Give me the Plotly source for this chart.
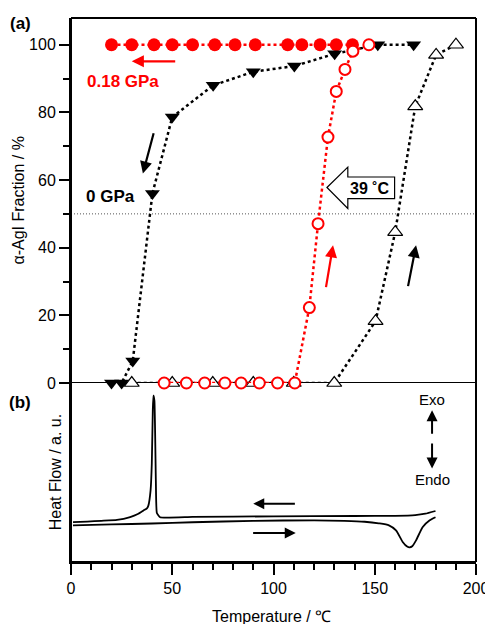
import plotly.graph_objects as go

# ---------------- data ----------------
# (a) alpha-AgI fraction (%) vs temperature (deg C)
t_cool_018 = [20, 30, 41, 50, 60, 71, 81, 91, 107, 114, 123, 131, 139]
f_cool_018 = [100, 100, 100, 100, 100, 100, 100, 100, 100, 100, 100, 100, 100]

t_heat_018 = [46, 57, 66, 76, 84, 93, 102, 110.5, 117.7, 122, 126.9, 131, 135.3, 139.2, 147.1]
f_heat_018 = [0, 0, 0, 0, 0, 0, 0, 0, 22.3, 47.1, 72.7, 86.2, 92.7, 98.1, 100]

t_cool_0 = [20, 25, 30.5, 40.2, 50, 70.2, 90, 110.3, 130.2, 151.5, 169.2]
f_cool_0 = [0, 0, 6.5, 56, 78.6, 88, 92, 93.7, 97.3, 100, 100]

t_heat_0 = [30, 50, 70, 90, 110, 130, 150.4, 160.1, 170, 180.3, 190.1]
f_heat_0 = [0, 0, 0, 0, 0, 0, 18.3, 44.6, 81.8, 97, 100]

# (b) DSC heat flow (arbitrary units)
t_dsc_cool = [180, 175, 170, 160, 140, 100, 60, 44, 42.4, 41.9, 41.2, 40.7, 40.4, 39.9,
              39.3, 38.2, 37.5, 35.8, 33, 29.2, 22.7, 15, 8, 1]
h_dsc_cool = [28.5, 27.0, 26.2, 25.8, 25.7, 25.5, 25.2, 25.0, 27.4, 45.6, 90, 93.1, 85, 55,
              40, 31.5, 30.0, 28.8, 26.8, 25.1, 23.5, 23.0, 22.6, 22.3]

t_dsc_heat = [1, 20, 40, 60, 90, 120, 135, 145, 152, 157, 160.5, 163.8, 166, 167.2,
              168.5, 170.4, 173.7, 177, 180]
h_dsc_heat = [20.5, 21.0, 21.5, 22.2, 23.0, 23.3, 23.0, 22.5, 21.6, 20.5, 17.7, 11.2, 8.6, 8.2,
              8.8, 12.1, 19.6, 23.2, 25.0]

x_ticks = [0, 50, 100, 150, 200]
y_ticks = [0, 20, 40, 60, 80, 100]

# ---------------- figure ----------------
RED = "#ff0000"
FONT = "Liberation Sans, Arial, Helvetica, sans-serif"
DASH = "3px,3px"

fig = go.Figure()

fig.add_trace(go.Scatter(
    x=t_cool_018, y=f_cool_018, mode="lines+markers", cliponaxis=False,
    line=dict(color=RED, width=2.5, dash=DASH),
    marker=dict(symbol="circle", size=13, color=RED, line=dict(width=0)),
    xaxis="x", yaxis="y", showlegend=False, hoverinfo="skip"))

fig.add_trace(go.Scatter(
    x=t_cool_0, y=f_cool_0, mode="lines+markers", cliponaxis=False,
    line=dict(color="black", width=2.5, dash=DASH),
    marker=dict(symbol="triangle-down", size=13, color="black", line=dict(width=0)),
    xaxis="x", yaxis="y", showlegend=False, hoverinfo="skip"))

fig.add_trace(go.Scatter(
    x=t_heat_0, y=f_heat_0, mode="lines+markers", cliponaxis=False,
    line=dict(color="black", width=2.5, dash=DASH),
    marker=dict(symbol="triangle-up", size=13, color="white", line=dict(color="black", width=1.2)),
    xaxis="x", yaxis="y", showlegend=False, hoverinfo="skip"))

fig.add_trace(go.Scatter(
    x=t_heat_018, y=f_heat_018, mode="lines+markers", cliponaxis=False,
    line=dict(color=RED, width=2.5, dash=DASH),
    marker=dict(symbol="circle", size=11, color="white", line=dict(color=RED, width=2)),
    xaxis="x", yaxis="y", showlegend=False, hoverinfo="skip"))

fig.add_trace(go.Scatter(
    x=t_dsc_heat, y=h_dsc_heat, mode="lines",
    line=dict(color="black", width=1.8, shape="spline", smoothing=0.6),
    xaxis="x", yaxis="y2", showlegend=False, hoverinfo="skip"))

fig.add_trace(go.Scatter(
    x=t_dsc_cool, y=h_dsc_cool, mode="lines",
    line=dict(color="black", width=1.8, shape="spline", smoothing=0.4),
    xaxis="x", yaxis="y2", showlegend=False, hoverinfo="skip"))

SPLIT = 0.329

# page body has an 8px default margin: size the figure so the plot lands where the reference has it
fig.update_layout(
    width=485, height=616,
    margin=dict(l=63, r=17, t=10, b=62, autoexpand=False),
    paper_bgcolor="white", plot_bgcolor="white",
    font=dict(family=FONT, size=16, color="black"),
    xaxis=dict(
        range=[0, 200], anchor="y2", domain=[0, 1], automargin=False,
        tickvals=x_ticks, ticktext=[str(v) for v in x_ticks],
        ticks="outside", ticklen=11, tickwidth=1.5, tickcolor="black",
        minor=dict(dtick=10, ticks="outside", ticklen=6, tickwidth=1.5, tickcolor="black"),
        showgrid=False, zeroline=False, showline=True, linecolor="black", linewidth=2,
        tickfont=dict(size=16, family=FONT),
    ),
    yaxis=dict(
        range=[0, 107.9], domain=[SPLIT, 1], anchor="x", automargin=False,
        tickvals=y_ticks, ticktext=[str(v) for v in y_ticks],
        ticks="outside", ticklen=10, tickwidth=1.5, tickcolor="black",
        minor=dict(dtick=10, ticks="outside", ticklen=6, tickwidth=1.5, tickcolor="black"),
        showgrid=False, zeroline=False, showline=True, linecolor="black", linewidth=2,
        tickfont=dict(size=16, family=FONT),
    ),
    yaxis2=dict(
        range=[0, 100], domain=[0, SPLIT], anchor="x", automargin=False,
        showticklabels=False, ticks="", showgrid=False, zeroline=False,
        showline=True, linecolor="black", linewidth=2,
    ),
)

FRAME = dict(color="black", width=2)
shapes = [
    # 50 % guide line
    dict(type="line", xref="x", yref="y", x0=0, x1=200, y0=50, y1=50,
         line=dict(color="#555555", width=1, dash="1px,2px"), layer="below"),
    # panel divider (0 %)
    dict(type="line", xref="paper", yref="y", x0=0, x1=1, y0=0, y1=0,
         line=FRAME, layer="below"),
    # frame edges
    dict(type="line", xref="paper", yref="paper", x0=0, x1=1, y0=1, y1=1, line=FRAME),
    dict(type="line", xref="paper", yref="paper", x0=1, x1=1, y0=0, y1=1, line=FRAME),
    dict(type="line", xref="paper", yref="paper", x0=0, x1=0, y0=0, y1=1, line=FRAME),
    dict(type="line", xref="paper", yref="paper", x0=0, x1=1, y0=0, y1=0, line=FRAME),
    # hollow arrow "39 C"
    dict(type="path", xref="x", yref="y",
         path="M126.4,57.8 L136.7,63.8 L136.7,60.9 L159.8,60.9 L159.8,54.5 L136.7,54.5 L136.7,51.6 Z",
         line=dict(color="black", width=1.2), fillcolor="white"),
]
fig.update_layout(shapes=shapes)

ann = []

def arrow(x_tail, y_tail, x_head, y_head, color, yref="y", width=2.2):
    ann.append(dict(x=x_head, y=y_head, ax=x_tail, ay=y_tail,
                    xref="x", yref=yref, axref="x", ayref=yref,
                    text="", showarrow=True, arrowhead=2, arrowsize=1.1,
                    arrowwidth=width, arrowcolor=color))

# panel (a) arrows
arrow(52.2, 95.1, 30.0, 95.1, RED)
arrow(41.0, 74.3, 35.5, 61.9, "black")
arrow(125.8, 27.9, 129.4, 40.7, RED)
arrow(166.3, 28.2, 170.4, 40.7, "black")
# panel (b) arrows
arrow(111.3, 32.6, 90.0, 32.6, "black", yref="y2", width=2)
arrow(89.2, 16.2, 111.0, 16.2, "black", yref="y2", width=2)
arrow(178.3, 70.8, 178.3, 84.8, "black", yref="y2", width=2)
arrow(178.3, 67.0, 178.3, 52.2, "black", yref="y2", width=2)

texts = [
    dict(x=25.8, y=89.1, xref="x", yref="y", text="<b>0.18 GPa</b>",
         font=dict(size=17, color=RED)),
    dict(x=19.5, y=55.2, xref="x", yref="y", text="<b>0 GPa</b>",
         font=dict(size=17, color="black")),
    dict(x=147.6, y=57.4, xref="x", yref="y", text="<b>39 ˚C</b>",
         font=dict(size=16, color="black")),
    dict(x=178.3, y=90.7, xref="x", yref="y2", text="Exo",
         font=dict(size=15, color="black")),
    dict(x=178.5, y=46.2, xref="x", yref="y2", text="Endo",
         font=dict(size=15, color="black")),
    dict(x=-0.125, y=0.990, xref="paper", yref="paper", text="<b>(a)</b>",
         font=dict(size=17, color="black")),
    dict(x=-0.125, y=0.2936, xref="paper", yref="paper", text="<b>(b)</b>",
         font=dict(size=17, color="black")),
    dict(x=-0.129, y=0.664, xref="paper", yref="paper", text="α-AgI Fraction / %",
         textangle=-90, font=dict(size=16, color="black")),
    dict(x=-0.038, y=0.166, xref="paper", yref="paper", text="Heat Flow / a. u.",
         textangle=-90, font=dict(size=16, color="black")),
    dict(x=0.496, y=-0.101, xref="paper", yref="paper", text="Temperature / ℃",
         font=dict(size=16, color="black")),
]
for t in texts:
    t.update(showarrow=False, xanchor="center", yanchor="middle")
    ann.append(t)

fig.update_layout(annotations=ann)

fig.write_html("out.html")
